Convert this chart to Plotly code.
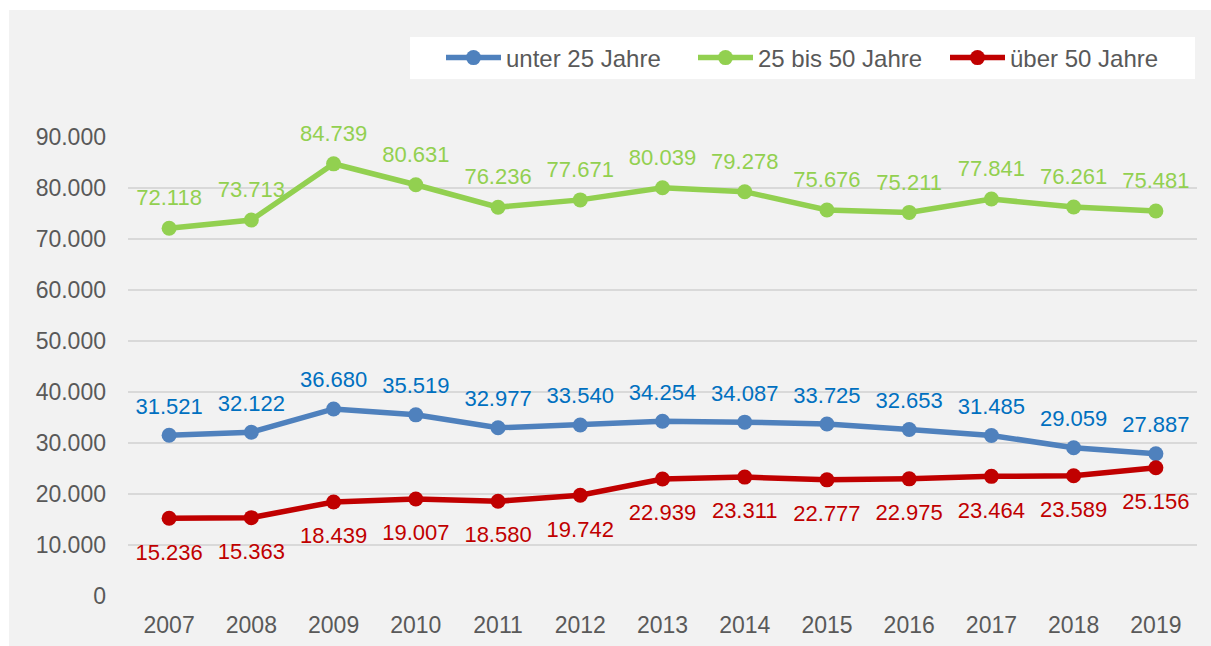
import plotly.graph_objects as go

years = ["2007", "2008", "2009", "2010", "2011", "2012", "2013",
         "2014", "2015", "2016", "2017", "2018", "2019"]
unter25 = [31521, 32122, 36680, 35519, 32977, 33540, 34254,
           34087, 33725, 32653, 31485, 29059, 27887]
mitte = [72118, 73713, 84739, 80631, 76236, 77671, 80039,
         79278, 75676, 75211, 77841, 76261, 75481]
ueber50 = [15236, 15363, 18439, 19007, 18580, 19742, 22939,
           23311, 22777, 22975, 23464, 23589, 25156]
yticks = [0, 10000, 20000, 30000, 40000, 50000, 60000, 70000, 80000, 90000]

series = [
    ("unter 25 Jahre", unter25, "#4f81bd", "#0070c0", "top center", 24),
    ("25 bis 50 Jahre", mitte, "#92d050", "#92d050", "top center", 26),
    ("über 50 Jahre", ueber50, "#c00000", "#c00000", "bottom center", 38),
]

FONT = "Liberation Sans, Arial, sans-serif"

fig = go.Figure()
for name, vals, lc, tc, pos, gap in series:
    fig.add_trace(go.Scatter(
        x=years, y=vals, name=name, mode="lines+markers",
        line=dict(color=lc, width=5.5),
        marker=dict(color=lc, size=15),
        hoverinfo="skip", cliponaxis=False,
    ))
for name, vals, lc, tc, pos, gap in series:
    fig.add_trace(go.Scatter(
        x=years, y=vals, mode="markers+text", showlegend=False,
        text=[f"{v:,}".replace(",", ".") for v in vals],
        textposition=pos,
        textfont=dict(family=FONT, size=22, color=tc),
        marker=dict(size=gap, color="rgba(0,0,0,0)"),
        hoverinfo="skip", cliponaxis=False,
    ))

W, H = 1211, 646
L, R, T, B = 128, 14, 137, 50
pw, ph = W - L - R, H - T - B


def px(xp):
    return (xp - L) / pw


def py(yp):
    return (H - B - yp) / ph


# grey chart area and white legend box
fig.add_shape(type="rect", xref="paper", yref="paper", layer="below",
              x0=px(9), x1=px(W), y0=py(H), y1=py(10),
              fillcolor="#f2f2f2", line=dict(width=0))
fig.add_shape(type="rect", xref="paper", yref="paper", layer="below",
              x0=px(410), x1=px(1195), y0=py(79), y1=py(37),
              fillcolor="white", line=dict(width=0))

fig.update_layout(
    width=W, height=H,
    margin=dict(l=L, r=R, t=T, b=B, autoexpand=False),
    paper_bgcolor="white",
    plot_bgcolor="rgba(0,0,0,0)",
    separators=",.",
    font=dict(family=FONT, size=24, color="#595959"),
    showlegend=True,
    legend=dict(
        orientation="h", x=1.0, xanchor="right",
        y=py(58), yanchor="middle",
        bgcolor="rgba(0,0,0,0)",
        font=dict(family=FONT, size=24, color="#595959"),
        itemwidth=55, entrywidth=182, entrywidthmode="pixels",
        itemclick=False, itemdoubleclick=False,
    ),
    xaxis=dict(
        type="category", range=[-0.5, 12.5], showgrid=False,
        zeroline=False, showline=False, ticks="", automargin=False,
        ticklabelstandoff=13,
        tickfont=dict(family=FONT, size=23, color="#595959"),
        fixedrange=True,
    ),
    yaxis=dict(
        range=[0, 90000], tickvals=yticks, tickformat=",d",
        showgrid=True, gridcolor="#d9d9d9", gridwidth=1.5,
        zeroline=False, showline=False, ticks="", automargin=False,
        ticklabelstandoff=21,
        tickfont=dict(family=FONT, size=23, color="#595959"),
        fixedrange=True,
    ),
)

fig.write_html(
    "out.html",
    config={"displayModeBar": False},
    post_script=(
        "document.body.style.margin='0';"
        "document.body.style.overflow='hidden';"
        "document.documentElement.style.overflow='hidden';"
    ),
)
